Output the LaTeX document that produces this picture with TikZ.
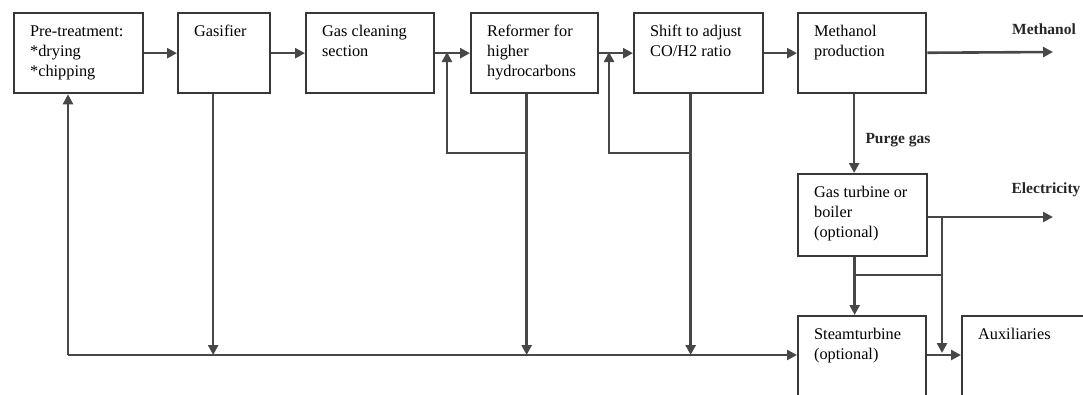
\documentclass[tikz,border=0pt]{standalone}
\usepackage{fontspec}
\setmainfont{Liberation Serif}
\usetikzlibrary{arrows.meta}

% body of a process box: fixed width and height, text set from the top left
\newcommand\stagebody[3]{%
  \parbox[c][#2][t]{#1}{\fontsize{16.3}{20}\selectfont\raggedright
    \leftskip=16pt\parindent=0pt\vspace*{9pt}\strut#3}}

\tikzset{
  stage/.style={draw=black!78, line width=2.3pt, anchor=north west,
                inner sep=0pt, fill=white},
  flow/.style={draw=black!72, line width=2.6pt},
  flowarrow/.style={flow, -{Triangle[length=10pt,width=10pt]}},
  flowlabel/.style={font=\bfseries\fontsize{15.5}{17}\selectfont,
                    text=black!85, inner sep=0pt}
}

\begin{document}
\begin{tikzpicture}[x=1pt,y=-1pt]
  \useasboundingbox (0,0) rectangle (1083,394);
  \clip (0,0) rectangle (1083,394);

  % main process chain
  \node[stage] (pre)   at (13,12)  {\stagebody{129pt}{80pt}{Pre-treatment:\\{}*drying\\{}*chipping}};
  \node[stage] (gas)   at (177,12) {\stagebody{92pt}{80pt}{Gasifier}};
  \node[stage] (clean) at (305,12) {\stagebody{128pt}{80pt}{Gas cleaning\\section}};
  \node[stage] (ref)   at (470,12) {\stagebody{127pt}{80pt}{Reformer for\\higher\\hydrocarbons}};
  \node[stage] (shift) at (633,12) {\stagebody{129pt}{80pt}{Shift to adjust\\CO/H2 ratio}};
  \node[stage] (meth)  at (797,12) {\stagebody{128pt}{80pt}{Methanol\\production}};

  % power side
  \node[stage] (gt)  at (797,173) {\stagebody{129pt}{82pt}{Gas turbine or\\boiler\\(optional)}};
  \node[stage] (st)  at (797,315) {\stagebody{128pt}{110pt}{Steamturbine\\(optional)}};
  \node[stage] (aux) at (961,315) {\stagebody{140pt}{110pt}{Auxiliaries}};

  % free ends and junctions
  \coordinate (bus)    at (68,355);
  \coordinate (methout) at (1053,52);
  \coordinate (elout)  at (1053,217);
  \coordinate (rin)    at (447,52);
  \coordinate (sin)    at (609,52);
  \coordinate (gdrop)  at ([xshift=-11pt]gas.south);
  \coordinate (rdrop)  at ([xshift=-8pt]ref.south);
  \coordinate (sdrop)  at ([xshift=-8pt]shift.south);
  \coordinate (mdrop)  at ([xshift=-8pt]meth.south);
  \coordinate (gtdrop) at ([xshift=-8pt]gt.south);
  \coordinate (rtap)   at (rdrop |- 0,153);
  \coordinate (stap)   at (sdrop |- 0,153);
  \coordinate (eltap)  at (942,217);
  \coordinate (gttap)  at (gtdrop |- 0,275);
  \coordinate (elbus)  at (942,275);
  \coordinate (elend)  at (942,353);
  \coordinate (stout)  at (st.east |- 0,355);

  % forward flow
  \draw[flowarrow] (pre)   -- (gas);
  \draw[flowarrow] (gas)   -- (clean);
  \draw[flowarrow] (clean) -- (ref);
  \draw[flowarrow] (ref)   -- (shift);
  \draw[flowarrow] (shift) -- (meth);
  \draw[flowarrow] (meth)  -- (methout);

  % recycle loops
  \draw[flowarrow] (rtap) -| (rin);
  \draw[flowarrow] (stap) -| (sin);

  % heat collection line along the bottom
  \draw[flowarrow] (gdrop) -- (gdrop |- bus);
  \draw[flowarrow] (rdrop) -- (rdrop |- bus);
  \draw[flowarrow] (sdrop) -- (sdrop |- bus);
  \draw[flowarrow] (bus) -- (bus -| st.west);
  \draw[flowarrow] (bus) -- (bus |- pre.south);

  % purge gas and power
  \draw[flowarrow] (mdrop) -- (mdrop |- gt.north);
  \draw[flowarrow] (gt.east |- eltap) -- (elout);
  \draw[flowarrow] (eltap) -- (elend);
  \draw[flowarrow] (gtdrop) -- (gtdrop |- st.north);
  \draw[flow] (gttap) -- (elbus);
  \draw[flowarrow] (stout) -- (stout -| aux.west);

  % stream labels
  \node[flowlabel] (lmeth)  at (1044,29)  {Methanol};
  \node[flowlabel] (lpurge) at (898,140)  {Purge gas};
  \node[flowlabel] (lel)    at (1046,190) {Electricity};
\end{tikzpicture}
\end{document}
